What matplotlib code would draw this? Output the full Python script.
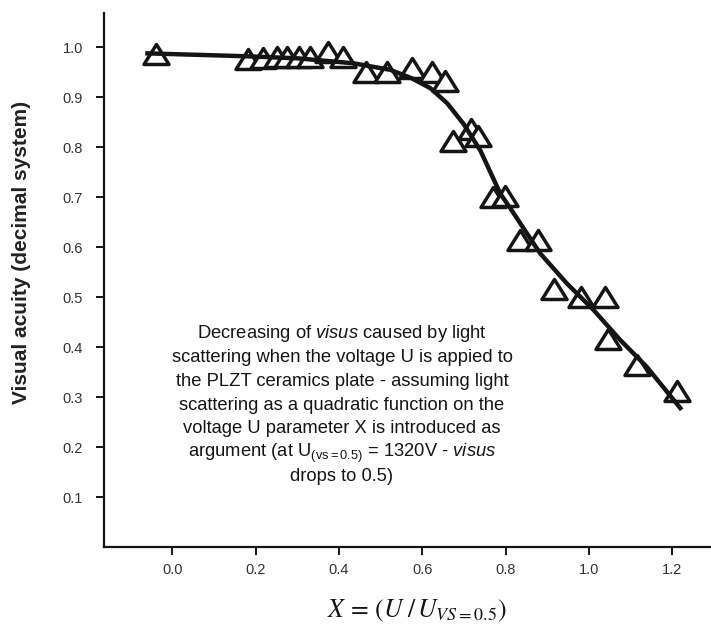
import matplotlib
matplotlib.use("Agg")
import matplotlib.pyplot as plt
from matplotlib.path import Path
from matplotlib.markers import MarkerStyle

plt.rcParams['font.family'] = ['Liberation Sans', 'DejaVu Sans']
plt.rcParams['mathtext.fontset'] = 'custom'
plt.rcParams['mathtext.rm'] = 'Liberation Sans'
plt.rcParams['mathtext.it'] = 'Liberation Sans:italic'
plt.rcParams['mathtext.bf'] = 'Liberation Sans:bold'

# measured points (triangles)
meas_x = [-0.039, 0.181, 0.218, 0.251, 0.275, 0.304, 0.331, 0.375, 0.411,
          0.464, 0.516, 0.575, 0.623, 0.655, 0.675, 0.716, 0.735, 0.771,
          0.799, 0.835, 0.879, 0.916, 0.981, 1.039, 1.047, 1.115, 1.211]
meas_y = [0.986, 0.977, 0.979, 0.980, 0.981, 0.981, 0.980, 0.990, 0.981,
          0.950, 0.950, 0.959, 0.950, 0.933, 0.813, 0.837, 0.822, 0.701,
          0.703, 0.615, 0.615, 0.516, 0.501, 0.501, 0.416, 0.365, 0.313]

# model curve
curve_x = [-0.065, 0.18, 0.30, 0.435, 0.523, 0.575, 0.62, 0.66, 0.70, 0.74,
           0.771, 0.787, 0.814, 0.883, 0.947, 1.011, 1.075, 1.139, 1.223]
curve_y = [0.988, 0.982, 0.978, 0.968, 0.955, 0.938, 0.918, 0.888, 0.846, 0.793,
           0.737, 0.708, 0.675, 0.588, 0.528, 0.475, 0.415, 0.361, 0.275]

x_ticks = [0.0, 0.2, 0.4, 0.6, 0.8, 1.0, 1.2]
y_ticks = [0.1, 0.2, 0.3, 0.4, 0.5, 0.6, 0.7, 0.8, 0.9, 1.0]

note_lines = [
    "Decreasing of $\\it{visus}$ caused by light",
    "scattering when the voltage U is appied to",
    "the PLZT ceramics plate - assuming light",
    "scattering as a quadratic function on the",
    "voltage U parameter X is introduced as",
    "argument (at U$_{\\mathrm{(vs=0.5)}}$ = 1320V - $\\it{visus}$",
    "drops to 0.5)",
]

W, H = 711, 631
fig = plt.figure(figsize=(W / 100, H / 100), dpi=100)
ax_left, ax_right, ax_top, ax_bottom = 104, 710, 13, 547.3
ax = fig.add_axes([ax_left / W, 1 - ax_bottom / H,
                   (ax_right - ax_left) / W, (ax_bottom - ax_top) / H])

tri = Path([(0, 0.8), (-1, -0.8), (1, -0.8), (0, 0.8)],
           [Path.MOVETO, Path.LINETO, Path.LINETO, Path.CLOSEPOLY])
marker = MarkerStyle(tri, joinstyle='miter')

ax.plot(meas_x, meas_y, linestyle='none', marker=marker, markersize=18,
        markerfacecolor='white', markeredgecolor='#151515', markeredgewidth=2.5,
        zorder=2)
ax.plot(curve_x, curve_y, color='#151515', linewidth=3.2, zorder=3,
        solid_capstyle='butt')

ax.set_xlim(-0.164, -0.164 + (ax_right - ax_left) / 416.5)
ax.set_ylim(0, (ax_bottom - ax_top) / 500)
ax.set_xticks(x_ticks)
ax.set_xticklabels([f"{v:.1f}" for v in x_ticks])
ax.set_yticks(y_ticks)
ax.set_yticklabels([f"{v:.1f}" for v in y_ticks])

for s in ['top', 'right']:
    ax.spines[s].set_visible(False)
for s in ['left', 'bottom']:
    ax.spines[s].set_linewidth(1.6)
    ax.spines[s].set_color('#151515')

ax.tick_params(axis='both', direction='out', length=6, width=1.4,
               colors='#151515', labelcolor='#333333', labelsize=10.5)
ax.tick_params(axis='y', pad=9)
ax.tick_params(axis='x', pad=5)

fig.text(22 / W, 1 - 252 / H, 'Visual acuity (decimal system)', rotation=90,
         ha='center', va='center', fontsize=15, fontweight='bold',
         color='#222222')
fig.text(416.7 / W, 1 - 617 / H, r'$X\,=\,(U\;/\,U_{VS\mathrm{=0.5}})$',
         ha='center', va='baseline', fontsize=18.5, math_fontfamily='stix',
         color='#151515')

for i, line in enumerate(note_lines):
    base_px = 338.3 + i * 23.75
    fig.text(342 / W, 1 - base_px / H, line, ha='center', va='baseline',
             fontsize=13.2, color='#151515')

fig.savefig('out.png', dpi=100)
